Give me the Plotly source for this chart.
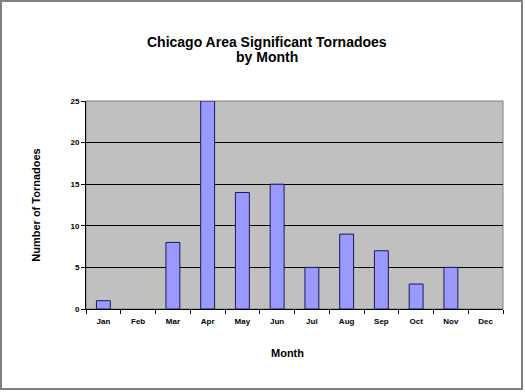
import plotly.graph_objects as go

months = ["Jan", "Feb", "Mar", "Apr", "May", "Jun", "Jul", "Aug", "Sep", "Oct", "Nov", "Dec"]
tornadoes = [1, 0, 8, 25, 14, 15, 5, 9, 7, 3, 5, 0]
y_ticks = [0, 5, 10, 15, 20, 25]
title_lines = ["Chicago Area Significant Tornadoes", "by Month"]

W, H = 525, 392
L, R, T, B = 86, 22, 101, 83
pw, ph = W - L - R, H - T - B

def px_x(x):
    return (x - L) / pw

def px_y(y):
    return (H - B - y) / ph

fig = go.Figure()
fig.add_trace(go.Bar(
    x=months, y=tornadoes,
    marker=dict(color="#9999FF",
                line=dict(color="#1a1a5a", width=[1 if v > 0 else 0 for v in tornadoes])),
    width=0.4,
))

fig.update_layout(
    width=W, height=H,
    margin=dict(l=L, r=R, t=T, b=B),
    paper_bgcolor="white",
    plot_bgcolor="#C0C0C0",
    showlegend=False,
    font=dict(family="Liberation Sans, Arial", color="black"),
)
tfont = dict(family="Liberation Sans, Arial", size=14, color="black", weight="bold")
for i, line in enumerate(title_lines):
    fig.add_annotation(text=line, xref="paper", yref="paper",
                       x=px_x(267), y=px_y(42 + 15 * i),
                       xanchor="center", yanchor="middle", showarrow=False, font=tfont)
fig.add_annotation(text="Month", xref="paper", yref="paper",
                   x=px_x(287), y=px_y(353), xanchor="center", yanchor="middle",
                   showarrow=False, font=dict(size=11, weight="bold"))

fig.update_xaxes(
    type="category",
    showgrid=False,
    showline=True, linecolor="black", linewidth=1,
    ticks="outside", tickson="boundaries", ticklen=4, tickcolor="black",
    tickfont=dict(size=8, weight="bold"), ticklabelstandoff=4,
    range=[-0.5, 11.5],
)
fig.update_yaxes(
    range=[0, 25],
    tickvals=y_ticks,
    showgrid=True, gridcolor="black", gridwidth=1,
    showline=True, linecolor="black", linewidth=1,
    ticks="outside", ticklen=4, tickcolor="black",
    tickfont=dict(size=8, weight="bold"),
    title=dict(text="Number of Tornadoes", font=dict(size=11, weight="bold"), standoff=27),
    zeroline=False,
)
# outer border of the chart
fig.add_shape(type="rect", xref="paper", yref="paper",
              x0=px_x(1), x1=px_x(W - 3), y0=px_y(H - 3), y1=px_y(1),
              line=dict(color="#808080", width=2), layer="above")
# plot area border
fig.add_shape(type="rect", xref="paper", yref="paper",
              x0=0, x1=1, y0=0, y1=1,
              line=dict(color="#808080", width=1), layer="below")

fig.write_html("out.html", config={"displayModeBar": False},
               post_script="document.body.style.margin='0';document.body.style.overflow='hidden';")
